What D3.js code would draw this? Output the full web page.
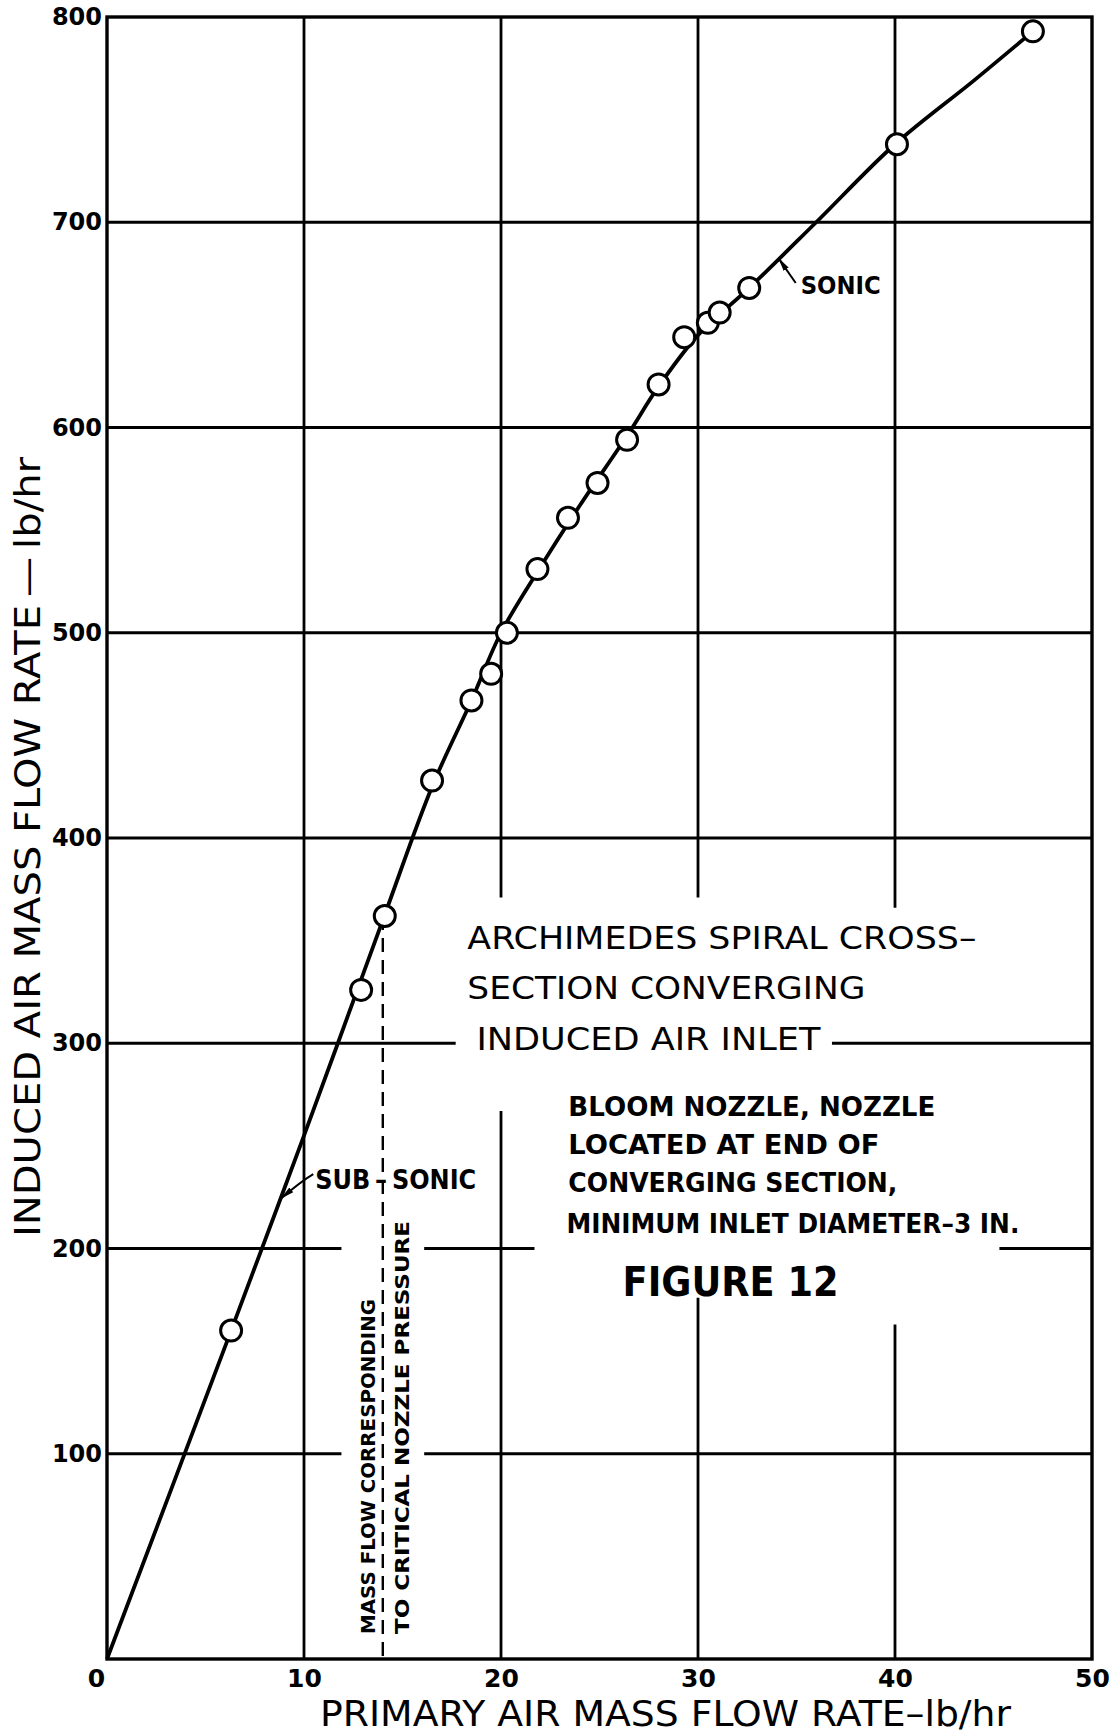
<!DOCTYPE html>
<html>
<head>
<meta charset="utf-8">
<script src="https://cdn.jsdelivr.net/npm/d3@7"></script>
<style>
  body { margin: 0; background: #fff; }
  svg { display: block; }
  text { fill: #000; font-family: "DejaVu Sans", sans-serif; }
</style>
</head>
<body>
<div id="chart"></div>
<script type="text/javascript">

      // size of the page / plot frame
      var w = 1113, h = 1733;
      var margin = {top: 17, right: 21, bottom: 74, left: 107};

      // axis ticks
      var xTicks = [0, 10, 20, 30, 40, 50];
      var yTicks = [100, 200, 300, 400, 500, 600, 700, 800];

      // measured points (primary flow lb/hr, induced flow lb/hr)
      var primaryFlow = [6.3, 12.9, 14.1, 16.5, 18.5, 19.5, 20.3, 21.85, 23.4, 24.9, 26.4, 28.0, 29.3, 30.5, 31.1, 32.6, 40.1, 47.0];
      var inducedFlow = [160, 326, 362, 428, 467, 480, 500, 531, 556, 573, 594, 621, 644, 651, 656, 668, 738, 793];

      // faired curve through the points
      var curvePrimary = [0, 6.3, 10, 14, 16.5, 18.5, 20, 22, 24, 26.4, 28, 30, 32.6, 36, 40, 44, 47];
      var curveInduced = [0, 160, 255, 360, 425, 467, 500, 532, 562, 596, 620, 645, 668, 700, 738, 769, 793];

      // critical pressure flow (dashed vertical)
      var criticalFlow = 14.0, criticalInduced = 362;

      // breaks in the grid lines where the lettering sits (in data units)
      var xGridBreaks = {20: [[267, 371]], 30: [[176, 371]], 40: [[163, 366]]};
      var yGridBreaks = {300: [[17.7, 36.8]], 200: [[11.9, 16.1], [21.7, 45.3]], 100: [[11.9, 16.1]]};

      var x = d3.scaleLinear().domain([0, 50]).range([margin.left, w - margin.right]);
      var y = d3.scaleLinear().domain([0, 800]).range([h - margin.bottom, margin.top]);

      var svg = d3.select("#chart")
                  .append("svg")
                  .attr("width", w)
                  .attr("height", h);

      svg.append("rect").attr("width", w).attr("height", h).attr("fill", "#fff");

      // split a line into pieces around its breaks
      function pieces(lo, hi, breaks) {
        var out = [], start = lo;
        (breaks || []).forEach(function(b) {
          out.push([start, b[0]]);
          start = b[1];
        });
        out.push([start, hi]);
        return out;
      }

      var grid = svg.append("g").attr("stroke", "#000").attr("stroke-width", 2.8).attr("fill", "none");

      xTicks.slice(1, -1).forEach(function(v) {
        pieces(0, 800, xGridBreaks[v]).forEach(function(p) {
          grid.append("line")
              .attr("x1", x(v)).attr("x2", x(v))
              .attr("y1", y(p[0])).attr("y2", y(p[1]));
        });
      });

      yTicks.slice(0, -1).forEach(function(v) {
        pieces(0, 50, yGridBreaks[v]).forEach(function(p) {
          grid.append("line")
              .attr("y1", y(v)).attr("y2", y(v))
              .attr("x1", x(p[0])).attr("x2", x(p[1]));
        });
      });

      // frame
      svg.append("rect")
         .attr("x", x(0)).attr("y", y(800))
         .attr("width", x(50) - x(0)).attr("height", y(0) - y(800))
         .attr("fill", "none").attr("stroke", "#000").attr("stroke-width", 3.4);

      // tick labels
      var xAxis = svg.append("g")
         .attr("transform", "translate(0," + y(0) + ")")
         .call(d3.axisBottom(x).tickValues(xTicks).tickSize(0).tickPadding(4).tickFormat(d3.format("d")));
      xAxis.select(".domain").remove();
      xAxis.selectAll("text")
           .attr("dy", "0.95em")
           .attr("dx", function(d) { return d === 0 ? -11 : 0; })
           .style("font-size", "25px").style("font-weight", "bold");

      var yAxis = svg.append("g")
         .attr("transform", "translate(" + x(0) + ",0)")
         .call(d3.axisLeft(y).tickValues(yTicks).tickSize(0).tickPadding(5).tickFormat(d3.format("d")));
      yAxis.select(".domain").remove();
      yAxis.selectAll("text")
           .style("font-size", "24px").style("font-weight", "bold");
      svg.selectAll(".tick text").attr("font-family", null);

      // axis titles
      svg.append("text")
         .attr("x", 320).attr("y", 1726)
         .attr("textLength", 691).attr("lengthAdjust", "spacingAndGlyphs")
         .style("font-size", "35px")
         .text("PRIMARY AIR MASS FLOW RATE\u2013lb/hr");

      svg.append("text")
         .attr("transform", "translate(40,1237) rotate(-90)")
         .attr("textLength", 780).attr("lengthAdjust", "spacingAndGlyphs")
         .style("font-size", "35px")
         .text("INDUCED AIR MASS FLOW RATE\u2009\u2014\u2009lb/hr");

      // dashed critical flow line
      svg.append("line")
         .attr("x1", x(criticalFlow)).attr("x2", x(criticalFlow))
         .attr("y1", y(criticalInduced)).attr("y2", y(0))
         .attr("stroke", "#000").attr("stroke-width", 2.4)
         .attr("stroke-dasharray", "14,8");

      // faired curve
      var curvePts = curvePrimary.map(function(d, i) { return [d, curveInduced[i]]; });
      var line = d3.line()
                   .x(function(d) { return x(d[0]); })
                   .y(function(d) { return y(d[1]); })
                   .curve(d3.curveCatmullRom.alpha(0.5));
      svg.append("path")
         .attr("d", line(curvePts))
         .attr("fill", "none").attr("stroke", "#000").attr("stroke-width", 3.8);

      // data points
      var pts = primaryFlow.map(function(d, i) { return {p: d, q: inducedFlow[i]}; });
      svg.selectAll("circle.pt")
         .data(pts)
         .enter()
         .append("circle")
         .attr("class", "pt")
         .attr("cx", function(d) { return x(d.p); })
         .attr("cy", function(d) { return y(d.q); })
         .attr("r", 10.5)
         .attr("fill", "#fff")
         .attr("stroke", "#000")
         .attr("stroke-width", 3);

      // arrow heads
      svg.append("defs").append("marker")
         .attr("id", "head")
         .attr("viewBox", "0 0 14 8")
         .attr("refX", 13).attr("refY", 4)
         .attr("markerWidth", 14).attr("markerHeight", 8)
         .attr("markerUnits", "userSpaceOnUse")
         .attr("orient", "auto")
         .append("path")
         .attr("d", "M0,1 L14,4 L0,7 Z")
         .attr("fill", "#000");

      svg.append("path")
         .attr("d", "M" + x(34.96) + "," + y(670.4) + " L" + x(34.1) + "," + y(682.3))
         .attr("stroke", "#000").attr("stroke-width", 2).attr("fill", "none")
         .attr("marker-end", "url(#head)");

      svg.append("path")
         .attr("d", "M" + x(10.47) + "," + y(236.2) + " Q" + x(9.9) + "," + y(233) + " " + x(8.85) + "," + y(224.5))
         .attr("stroke", "#000").attr("stroke-width", 2).attr("fill", "none")
         .attr("marker-end", "url(#head)");

      // lettering
      var notes = [
        {t: "ARCHIMEDES SPIRAL CROSS\u2013", px: 18.29, py: 351.5, len: 509, size: 32, bold: false},
        {t: "SECTION  CONVERGING", px: 18.29, py: 327.2, len: 398, size: 32, bold: false},
        {t: "INDUCED AIR INLET", px: 18.75, py: 302.3, len: 344, size: 32, bold: false},
        {t: "BLOOM  NOZZLE, NOZZLE", px: 23.42, py: 269.2, len: 367, size: 26, bold: true},
        {t: "LOCATED  AT  END  OF", px: 23.42, py: 250.7, len: 311, size: 26, bold: true},
        {t: "CONVERGING  SECTION,", px: 23.42, py: 232.2, len: 329, size: 26, bold: true},
        {t: "MINIMUM  INLET DIAMETER\u20133 IN.", px: 23.32, py: 212.3, len: 453, size: 26, bold: true},
        {t: "FIGURE  12", px: 26.17, py: 184.0, len: 216, size: 40, bold: true},
        {t: "SUB\u2009\u2013\u2009SONIC", px: 10.57, py: 233.7, len: 161, size: 27, bold: true},
        {t: "SONIC", px: 35.21, py: 669.4, len: 80, size: 24, bold: true}
      ];

      svg.selectAll("text.note")
         .data(notes)
         .enter()
         .append("text")
         .attr("class", "note")
         .attr("x", function(d) { return x(d.px); })
         .attr("y", function(d) { return y(d.py); })
         .attr("dy", "0.36em")
         .attr("textLength", function(d) { return d.len; })
         .attr("lengthAdjust", "spacingAndGlyphs")
         .style("font-size", function(d) { return d.size + "px"; })
         .style("font-weight", function(d) { return d.bold ? "bold" : "normal"; })
         .text(function(d) { return d.t; });

      // upright lettering beside the dashed line
      var sideNotes = [
        {t: "MASS  FLOW  CORRESPONDING", px: 13.26, py: 12.2, len: 335},
        {t: "TO CRITICAL  NOZZLE  PRESSURE", px: 14.94, py: 12.2, len: 413}
      ];

      svg.selectAll("text.side")
         .data(sideNotes)
         .enter()
         .append("text")
         .attr("class", "side")
         .attr("transform", function(d) { return "translate(" + x(d.px) + "," + y(d.py) + ") rotate(-90)"; })
         .attr("dy", "0.36em")
         .attr("textLength", function(d) { return d.len; })
         .attr("lengthAdjust", "spacingAndGlyphs")
         .style("font-size", "20px")
         .style("font-weight", "bold")
         .text(function(d) { return d.t; });

</script>
</body>
</html>
